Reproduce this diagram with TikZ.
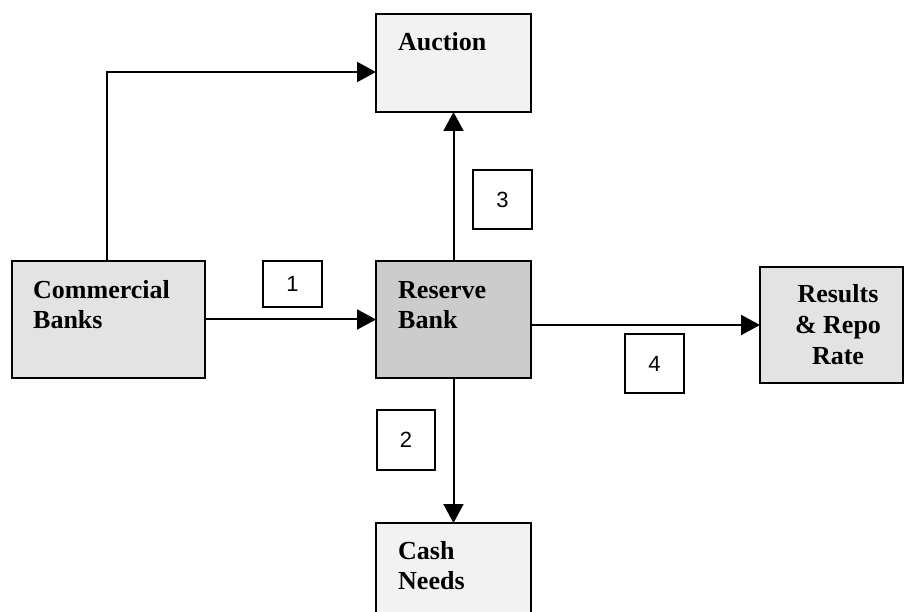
\documentclass[tikz,border=0pt]{standalone}
\usepackage{fontspec}
\setmainfont{Liberation Serif}
\newfontfamily\numfont{Liberation Sans}
\usetikzlibrary{arrows.meta}

\tikzset{
  blockbox/.style={draw=black, line width=2.4pt, minimum width=#1, inner sep=0pt, outer sep=0pt},
  lighttone/.style={fill=gray!10},
  midtone/.style={fill=gray!22},
  darktone/.style={fill=gray!40},
  blocktext/.style={font=\fontsize{26}{30}\selectfont\bfseries, inner sep=0pt, align=left},
  stepnum/.style={draw=black, line width=2pt, fill=white, inner sep=0pt,
                  minimum width=59pt, minimum height=#1, font=\numfont\fontsize{22}{26}\selectfont},
  flow/.style={draw=black, line width=2pt, -{Triangle[length=19pt, width=20pt]}},
}

\begin{document}
\begin{tikzpicture}[x=1pt, y=-1pt]
  \useasboundingbox (0,0) rectangle (905,612);
  \fill[white] (0,0) rectangle (905,612);
  \clip (0,0) rectangle (905,612);

  % blocks
  \node[blockbox=155pt, minimum height=98pt, lighttone, anchor=north west] (auction) at (376,14) {};
  \node[blockbox=193pt, minimum height=117pt, midtone, anchor=north west] (cb) at (12,261) {};
  \node[blockbox=155pt, minimum height=117pt, darktone, anchor=north west] (rb) at (376,261) {};
  \node[blockbox=143pt, minimum height=116pt, midtone, anchor=north west] (res) at (760,267) {};
  \node[blockbox=155pt, minimum height=120pt, lighttone, anchor=north west] (cash) at (376,523) {};

  % block captions (the base anchor sits on the last line)
  \node[blocktext, anchor=base west] (auctiontxt) at (398,51) {Auction};
  \node[blocktext, anchor=base west] (cbtxt) at (33,329) {Commercial\\Banks};
  \node[blocktext, anchor=base west] (rbtxt) at (398,329) {Reserve\\Bank};
  \node[blocktext, align=center, anchor=base, font=\fontsize{26}{31}\selectfont\bfseries] (restxt) at (838,364) {Results\\\& Repo\\Rate};
  \node[blocktext, anchor=base west] (cashtxt) at (398,589) {Cash\\Needs};

  % flows
  \draw[flow] ([xshift=95pt]cb.north west) |- ([yshift=-58pt]auction.north west);
  \draw[flow] (cb.east) -- (rb.west);
  \draw[flow] (rb.north) -- (auction.south);
  \draw[flow] (rb.south) -- (cash.north);
  \draw[flow] (rb.east |- res.west) -- (res.west);

  % step numbers
  \node[stepnum=46pt, anchor=north west] (s1) at (262,260) {1};
  \node[stepnum=59pt, anchor=north west] (s3) at (472,169) {3};
  \node[stepnum=60pt, anchor=north west, minimum width=58pt] (s2) at (376,409) {2};
  \node[stepnum=59pt, anchor=north west] (s4) at (624,333) {4};
\end{tikzpicture}
\end{document}
